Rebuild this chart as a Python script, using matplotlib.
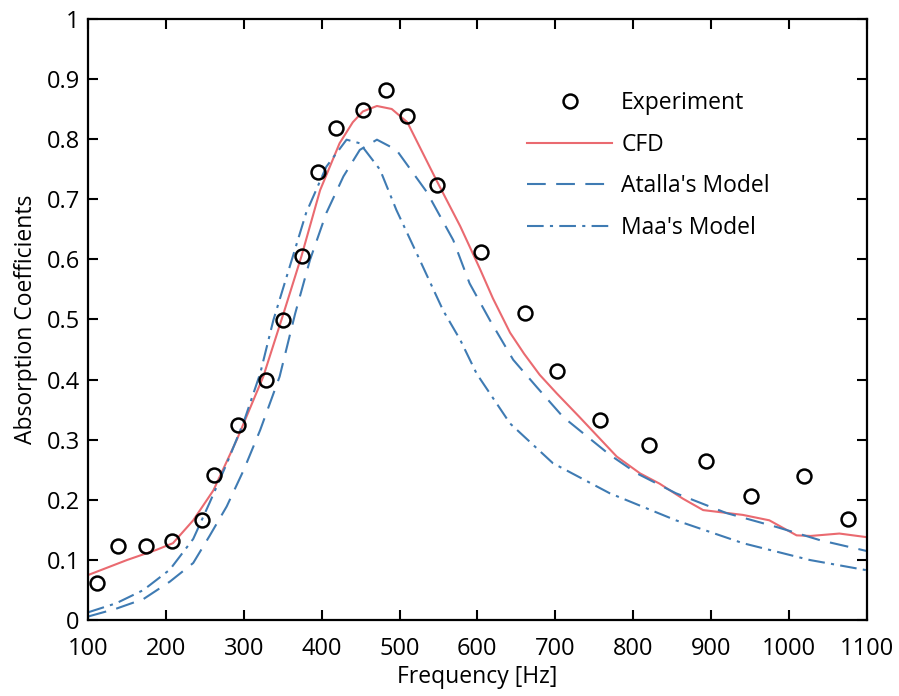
import matplotlib
matplotlib.use("Agg")
import matplotlib.pyplot as plt

plt.rcParams['font.family'] = ['Open Sans', 'DejaVu Sans']

# experiment points
exp_f = [111, 139, 174, 208, 246, 262, 292, 329, 350, 375, 395, 418, 453,
         482, 510, 548, 605, 661, 702, 758, 821, 894, 951, 1020, 1076]
exp_a = [0.061, 0.124, 0.124, 0.132, 0.166, 0.242, 0.324, 0.399, 0.499, 0.606,
         0.746, 0.819, 0.849, 0.881, 0.839, 0.724, 0.612, 0.511, 0.415, 0.333,
         0.292, 0.265, 0.206, 0.239, 0.168]

# CFD curve
cfd_f = [100, 150, 188, 209, 235, 261, 291, 325, 351, 374, 398, 423, 440, 453,
         471, 490, 510, 548, 578, 603, 620, 642, 660, 680, 702, 731, 779, 809,
         834, 864, 890, 941, 975, 1010, 1028, 1065, 1100]
cfd_a = [0.075, 0.100, 0.117, 0.128, 0.166, 0.216, 0.300, 0.405, 0.510, 0.605,
         0.715, 0.793, 0.828, 0.846, 0.855, 0.850, 0.828, 0.730, 0.655, 0.585,
         0.535, 0.478, 0.443, 0.408, 0.377, 0.338, 0.272, 0.244, 0.227, 0.202,
         0.183, 0.175, 0.166, 0.141, 0.140, 0.144, 0.138]

# Atalla's model
atalla_f = [100, 136, 171, 205, 235, 256, 278, 300, 321, 346, 366, 385, 406,
            428, 449, 471, 496, 535, 569, 590, 616, 646, 676, 710, 770, 805,
            855, 920, 984, 1040, 1100]
atalla_a = [0.006, 0.019, 0.035, 0.064, 0.095, 0.140, 0.189, 0.250, 0.316,
            0.405, 0.510, 0.599, 0.677, 0.738, 0.782, 0.799, 0.782, 0.712,
            0.632, 0.560, 0.499, 0.433, 0.388, 0.338, 0.275, 0.244, 0.211,
            0.178, 0.155, 0.133, 0.115]

# Maa's model
maa_f = [100, 136, 171, 205, 235, 256, 278, 300, 321, 338, 359, 380, 406, 432,
         449, 475, 496, 526, 556, 578, 599, 642, 697, 770, 855, 941, 1027, 1100]
maa_a = [0.013, 0.028, 0.050, 0.084, 0.135, 0.195, 0.260, 0.330, 0.410, 0.499,
         0.588, 0.677, 0.754, 0.799, 0.793, 0.749, 0.682, 0.599, 0.515, 0.466,
         0.410, 0.327, 0.261, 0.211, 0.166, 0.128, 0.100, 0.083]

red = '#ea6a70'
blue = '#3f7bb3'

fig = plt.figure(figsize=(8.99, 6.96), dpi=100)
ax = fig.add_axes([0.098, 0.109, 0.866, 0.864])

ax.plot(exp_f, exp_a, 'o', ls='none', mfc='none', mec='black', ms=10, mew=1.8,
        label='Experiment', zorder=4)
ax.plot(cfd_f, cfd_a, '-', color=red, lw=1.5, label='CFD')
ax.plot(atalla_f, atalla_a, color=blue, lw=1.5, dashes=(9, 5), label="Atalla's Model")
ax.plot(maa_f, maa_a, color=blue, lw=1.5, dashes=(8, 3, 1.5, 3), label="Maa's Model")

ax.set_xlim(100, 1100)
ax.set_ylim(0, 1)
ax.set_xticks(range(100, 1101, 100))
ax.set_yticks([i / 10 for i in range(11)])
ax.set_yticklabels(['0', '0.1', '0.2', '0.3', '0.4', '0.5', '0.6', '0.7', '0.8', '0.9', '1'])
ax.tick_params(direction='in', length=7, width=1.5, labelsize=17,
               top=True, right=True)
ax.tick_params(axis='x', pad=12)
ax.tick_params(axis='y', pad=6)
for s in ax.spines.values():
    s.set_linewidth(1.6)

ax.set_xlabel('Frequency [Hz]', fontsize=16.5, labelpad=3)
ax.set_ylabel('Absorption Coefficients', fontsize=16.5, labelpad=6)

ax.legend(loc='upper left', bbox_to_anchor=(0.564, 0.88), frameon=False,
          fontsize=16.5, handlelength=3.7, handletextpad=0.4, labelspacing=0.77,
          borderpad=0, borderaxespad=0)

fig.savefig('out.png', dpi=100)
